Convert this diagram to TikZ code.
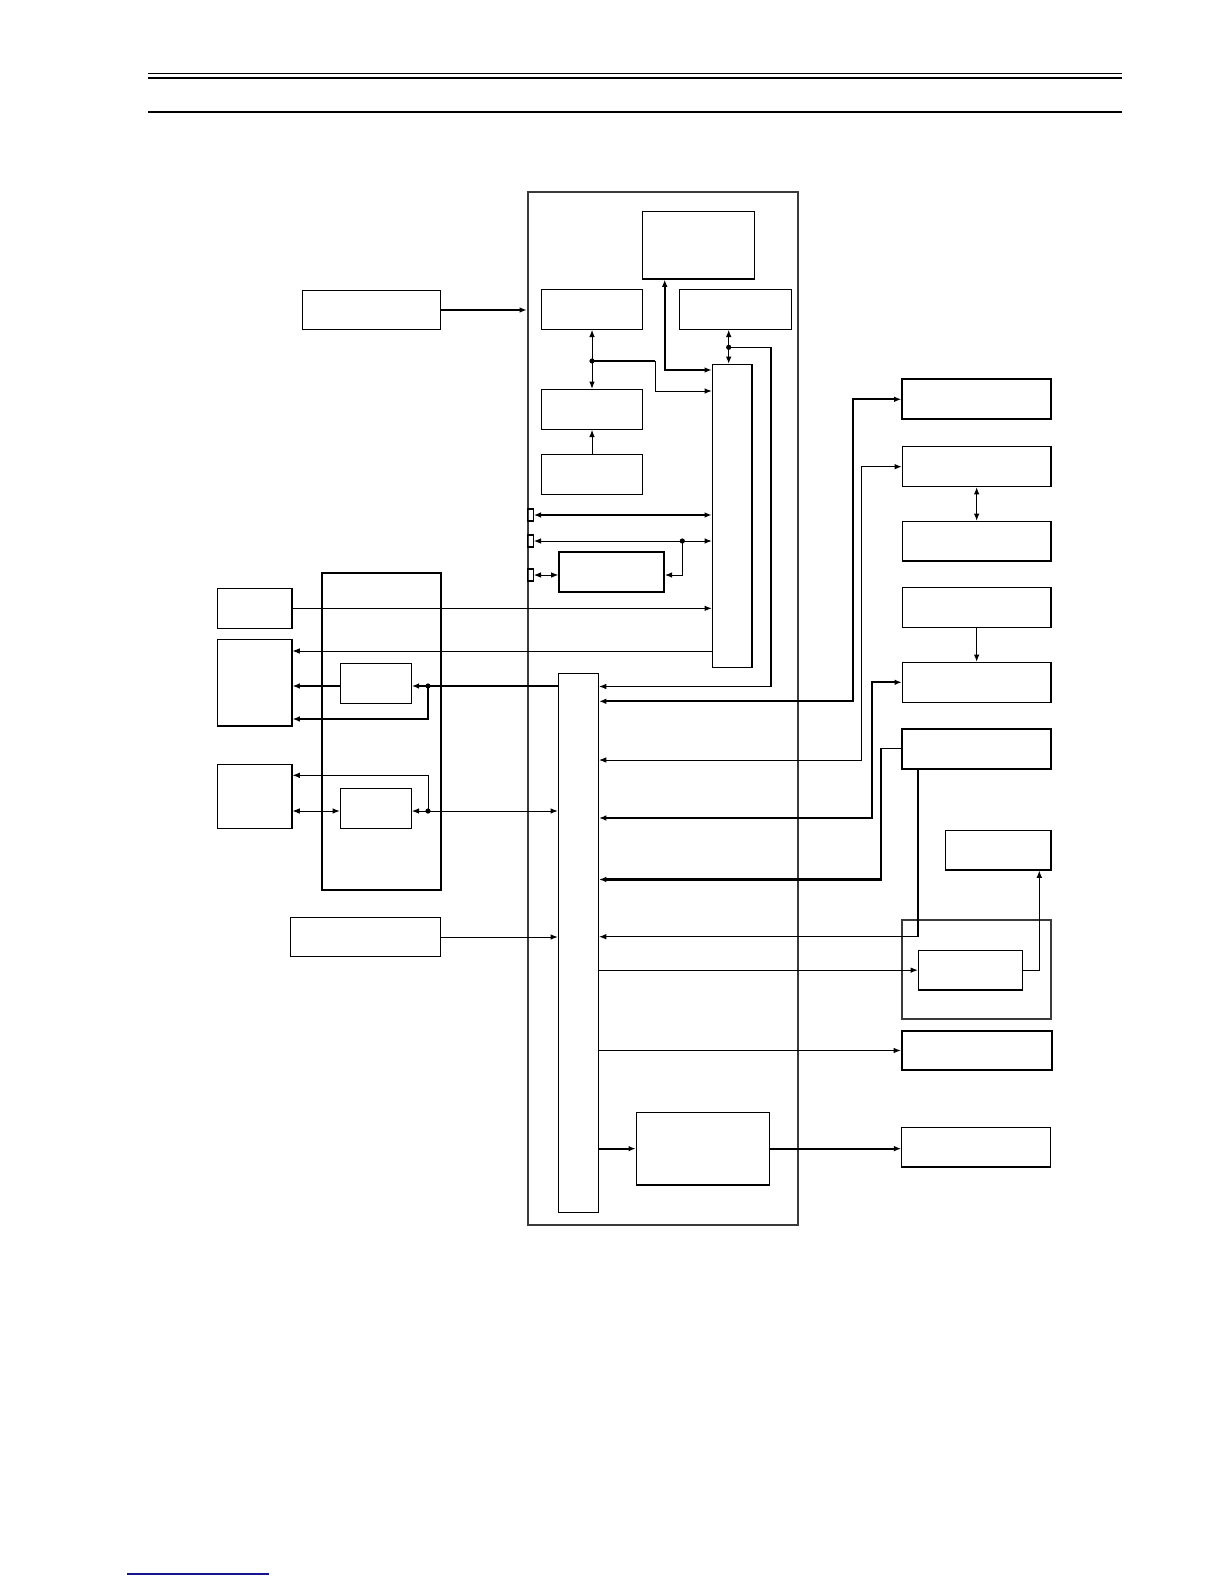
\documentclass[tikz,border=0pt]{standalone}
\usepackage{tikz}
\usetikzlibrary{arrows.meta}
\usetikzlibrary{fit}
\usetikzlibrary{positioning}
\definecolor{bd-line}{HTML}{000000}
\definecolor{bd-frame}{HTML}{3A3A3A}
\definecolor{bd-link}{HTML}{14148C}

\begin{document}
\begin{tikzpicture}[x=0.5pt, y=-0.5pt, >={Latex[length=3.6pt,width=2.8pt]},
    blk/.style={draw=bd-line, line width=0.55pt, inner sep=0pt, fit={#1}},
    blkb/.style={draw=bd-line, line width=0.95pt, inner sep=0pt, fit={#1}},
    wire/.style={draw=bd-line, line width=0.5pt},
    wireb/.style={draw=bd-line, line width=1.05pt},
    jdot/.style={fill=bd-line}]

    \useasboundingbox (0,0) rectangle (1224,1584);

    % --- REGUAS DO CABECALHO ---
    \draw[line width=0.5pt] (148,73.5) -- (1122,73.5);
    \draw[line width=1pt] (148,78) -- (1122,78);
    \draw[line width=0.6pt] (148,112) -- (1122,112);

    % --- PLACA PRINCIPAL E BLOCOS INTERNOS ---
    \node[blkb={(527.7,192.3) (797.7,1225)}, draw=bd-frame] (main) {};
    \node[blk={(642.3,211.7) (754.7,279)}] (rom) {};
    \node[blk={(541.3,289.7) (642.7,329.3)}] (blkA) {};
    \node[blk={(679.3,289.7) (791.3,329.3)}] (blkB) {};
    \node[blk={(541.3,389.3) (642.7,429.3)}] (blkC) {};
    \node[blk={(541.3,454.3) (642.7,494.3)}] (blkD) {};
    \node[blk={(712.3,364.3) (752,667.3)}] (cpu) {};
    \node[blk={(527.7,509) (533.3,521)}] (cn1) {};
    \node[blk={(527.7,535) (533.3,547)}] (cn2) {};
    \node[blk={(527.7,569) (533.3,581)}] (cn3) {};
    \node[blkb={(559.3,552.3) (664,592.3)}] (blkE) {};
    \node[blk={(558.3,673.3) (598.5,1212.7)}] (bus) {};
    \node[blk={(636.3,1112.3) (769.3,1185)}] (blkM) {};

    % --- BLOCOS DA ESQUERDA ---
    \node[blk={(302.5,290.5) (440.5,329.5)}] (in1) {};
    \node[blk={(290.5,917.5) (440.5,956.5)}] (in2) {};
    \node[blk={(217.7,588.3) (292,628.3)}] (blkF) {};
    \node[blk={(217.7,639.3) (292,726)}] (blkG) {};
    \node[blk={(217.7,764.3) (292,828.3)}] (blkJ) {};
    \node[blkb={(321.7,572.7) (441,890.3)}] (panel) {};
    \node[blk={(340.3,663.3) (411.3,703.3)}] (blkH) {};
    \node[blk={(340.3,788.3) (411.3,828.3)}] (blkK) {};

    % --- BLOCOS DA DIREITA ---
    \node[blkb={(902.3,379.3) (1051,419.3)}] (r1) {};
    \node[blk={(902.3,446.7) (1051,486.7)}] (r2) {};
    \node[blk={(902.3,521.3) (1051,561)}] (r3) {};
    \node[blk={(902.3,587.7) (1051,627.3)}] (r4) {};
    \node[blk={(902.3,662.3) (1051,702.3)}] (r5) {};
    \node[blkb={(902.3,729) (1051,769)}] (r6) {};
    \node[blk={(945.7,830.3) (1051,870)}] (r7) {};
    \node[blkb={(901.7,920) (1051,1019)}, draw=bd-frame] (r8) {};
    \node[blk={(918.3,950.3) (1022.7,990)}] (r8in) {};
    \node[blkb={(901.7,1030.7) (1051.7,1070.3)}] (r9) {};
    \node[blk={(901.7,1127.3) (1050.3,1167)}] (r10) {};

    % --- LIGACOES DA PARTE SUPERIOR ---
    \draw[wireb, ->] (in1.east) -- (main.west |- in1.east);
    \coordinate (jA) at (blkA.south |- 0,361);
    \coordinate (kA) at (655,361);
    \draw[wire, <->] (blkA.south) -- (blkC.north);
    \fill[jdot] (jA) circle (1.3pt);
    \draw[wireb] (jA) -- (kA);
    \draw[wire, ->] (kA) |- (cpu.west |- 0,391);
    \draw[wire, ->] (blkD.north) -- (blkC.south);
    \draw[wireb, <->] (rom.south -| 664.7,0) |- (cpu.west |- 0,370);

    \coordinate (jB) at (728.7,347.3);
    \coordinate (kB1) at (771,347.3);
    \coordinate (kB2) at (771,686.5);
    \draw[wire, <->] (blkB.south -| jB) -- (cpu.north -| jB);
    \fill[jdot] (jB) circle (1.3pt);
    \draw[wire] (jB) -- (kB1);
    \draw[wireb] (kB1) -- (kB2);
    \draw[wire, ->] (kB2) -- (bus.east |- kB2);

    % conectores na borda da placa
    \draw[wireb, <->] (cn1.east) -- (cpu.west |- cn1.east);
    \draw[wire, <->] (cn2.east) -- (cpu.west |- cn2.east);
    \coordinate (jE) at (682.3,541);
    \fill[jdot] (jE) circle (1.3pt);
    \draw[wire, ->] (jE) |- (blkE.east |- cn3.east);
    \draw[wire, <->] (cn3.east) -- (blkE.west |- cn3.east);

    % --- LIGACOES DA ESQUERDA ---
    \draw[wire, ->] (blkF.east) -- (cpu.west |- blkF.east);
    \draw[wire, ->] (cpu.west |- 0,651) -- (blkG.east |- 0,651);

    \coordinate (jH) at (428,686);
    \draw[wireb, ->] (bus.west |- jH) -- (blkH.east |- jH);
    \draw[wireb, ->] (blkH.west |- jH) -- (blkG.east |- jH);
    \fill[jdot] (jH) circle (1.3pt);
    \draw[wireb, ->] (jH) |- (blkG.east |- 0,719);

    \coordinate (jK) at (428,811);
    \draw[wire, <->] (blkK.east |- jK) -- (bus.west |- jK);
    \fill[jdot] (jK) circle (1.3pt);
    \draw[wire, ->] (jK) |- (blkJ.east |- 0,775.3);
    \draw[wire, <->] (blkJ.east |- jK) -- (blkK.west |- jK);

    \draw[wire, ->] (in2.east) -- (bus.west |- in2.east);

    % --- LIGACOES DA DIREITA ---
    \draw[wireb, <->] (bus.east |- 0,701.3) -- (853.3,701.3) |- (r1.west);
    \draw[wire, <->] (bus.east |- 0,760) -- (861.7,760) |- (r2.west);
    \draw[wireb, <->] (bus.east |- 0,818) -- (871.7,818) |- (r5.west);
    \draw[wire, <->] (r2.south) -- (r3.north);
    \draw[wire, ->] (r4.south) -- (r5.north);

    \coordinate (kR6a) at (881,748.3);
    \draw[wire] (r6.west |- kR6a) -- (kR6a);
    \draw[wireb, ->] (kR6a) |- (bus.east |- 0,879.5);
    \coordinate (kR6b) at (917.7,936.7);
    \draw[wireb] (r6.south -| kR6b) -- (kR6b);
    \draw[wire, ->] (kR6b) -- (bus.east |- kR6b);

    \draw[wire, ->] (bus.east |- r8in.west) -- (r8in.west);
    \draw[wire, ->] (r8in.east) -| (r7.south -| 1039.3,0);
    \draw[wire, ->] (bus.east |- r9.west) -- (r9.west);
    \draw[wireb, ->] (bus.east |- blkM.west) -- (blkM.west);
    \draw[wireb, ->] (blkM.east) -- (r10.west |- blkM.east);

    % --- LINHA DO RODAPE ---
    \draw[bd-link, line width=0.9pt] (127,1574) -- (269,1574);

\end{tikzpicture}
\end{document}
